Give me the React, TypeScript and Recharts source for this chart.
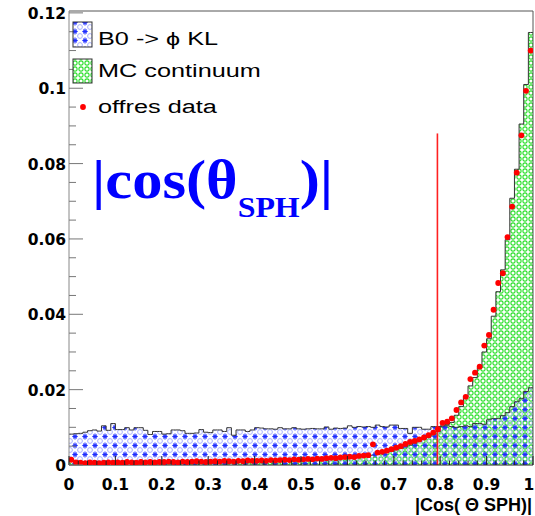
import React from 'react';
import { ComposedChart, Area, Line, XAxis, YAxis, ReferenceLine } from 'recharts';

// 100 bins over |cos(theta_SPH)| in [0, 1]
const signalB0 = [
  0.0082, 0.0083, 0.0084, 0.0087, 0.0091, 0.0093, 0.0090, 0.0104, 0.0092, 0.0110,
  0.0094, 0.0094, 0.0099, 0.0093, 0.0099, 0.0099, 0.0092, 0.0081, 0.0089, 0.0089,
  0.0082, 0.0083, 0.0093, 0.0093, 0.0091, 0.0084, 0.0084, 0.0085, 0.0094, 0.0087,
  0.0086, 0.0093, 0.0093, 0.0089, 0.0099, 0.0079, 0.0093, 0.0093, 0.0089, 0.0093,
  0.0099, 0.0098, 0.0096, 0.0096, 0.0095, 0.0099, 0.0096, 0.0096, 0.0099, 0.0096,
  0.0095, 0.0096, 0.0097, 0.0096, 0.0096, 0.0101, 0.0095, 0.0098, 0.0097, 0.0098,
  0.0104, 0.0100, 0.0102, 0.0101, 0.0102, 0.0100, 0.0106, 0.0102, 0.0101, 0.0106,
  0.0106, 0.0097, 0.0097, 0.0084, 0.0100, 0.0100, 0.0095, 0.0095, 0.0102, 0.0102,
  0.0104, 0.0104, 0.0102, 0.0100, 0.0102, 0.0104, 0.0102, 0.0110, 0.0110, 0.0108,
  0.0120, 0.0123, 0.0123, 0.0131, 0.0139, 0.0155, 0.0168, 0.0176, 0.0195, 0.0205,
];

const mcContinuum = [
  0.0010, 0.0005, 0.0004, 0.0004, 0.0005, 0.0004, 0.0005, 0.0005, 0.0004, 0.0005,
  0.0005, 0.0005, 0.0006, 0.0005, 0.0006, 0.0006, 0.0005, 0.0006, 0.0006, 0.0007,
  0.0006, 0.0007, 0.0007, 0.0006, 0.0007, 0.0007, 0.0008, 0.0007, 0.0008, 0.0008,
  0.0008, 0.0009, 0.0008, 0.0009, 0.0009, 0.0009, 0.0010, 0.0009, 0.0010, 0.0010,
  0.0010, 0.0011, 0.0011, 0.0011, 0.0012, 0.0012, 0.0012, 0.0013, 0.0013, 0.0013,
  0.0014, 0.0014, 0.0015, 0.0015, 0.0016, 0.0016, 0.0017, 0.0017, 0.0018, 0.0019,
  0.0019, 0.0020, 0.0021, 0.0023, 0.0024, 0.0026, 0.0028, 0.0031, 0.0033, 0.0036,
  0.0040, 0.0044, 0.0048, 0.0053, 0.0058, 0.0063, 0.0068, 0.0074, 0.0080, 0.0088,
  0.0102, 0.0108, 0.0113, 0.0132, 0.0155, 0.0180, 0.0210, 0.0232, 0.0258, 0.0300,
  0.0335, 0.0395, 0.0460, 0.0518, 0.0598, 0.0708, 0.0785, 0.0905, 0.1010, 0.1148,
];

const offresData = [
  0.0014, 0.0007, 0.0006, 0.0005, 0.0007, 0.0006, 0.0005, 0.0006, 0.0007, 0.0006,
  0.0007, 0.0006, 0.0008, 0.0007, 0.0006, 0.0008, 0.0007, 0.0008, 0.0007, 0.0008,
  0.0008, 0.0009, 0.0008, 0.0007, 0.0009, 0.0008, 0.0009, 0.0010, 0.0009, 0.0008,
  0.0009, 0.0010, 0.0009, 0.0011, 0.0010, 0.0009, 0.0011, 0.0010, 0.0012, 0.0011,
  0.0011, 0.0012, 0.0011, 0.0013, 0.0012, 0.0013, 0.0014, 0.0013, 0.0015, 0.0014,
  0.0015, 0.0016, 0.0015, 0.0017, 0.0016, 0.0018, 0.0019, 0.0018, 0.0020, 0.0021,
  0.0022, 0.0021, 0.0024, 0.0025, 0.0026, 0.0055, 0.0033, 0.0035, 0.0038, 0.0042,
  0.0046, 0.0050, 0.0056, 0.0061, 0.0064, 0.0068, 0.0073, 0.0079, 0.0086, 0.0095,
  0.0112, 0.0115, 0.0124, 0.0146, 0.0166, 0.0181, 0.0228, 0.0245, 0.0261, 0.0317,
  0.0345, 0.0412, 0.0483, 0.0509, 0.0605, 0.0686, 0.0776, 0.0875, 0.0993, 0.1100,
];

const xMajor = [0, 0.1, 0.2, 0.3, 0.4, 0.5, 0.6, 0.7, 0.8, 0.9, 1];
const xLabels = ['0', '0.1', '0.2', '0.3', '0.4', '0.5', '0.6', '0.7', '0.8', '0.9', '1'];
const xMinor = [
  0.02, 0.04, 0.06, 0.08, 0.12, 0.14, 0.16, 0.18, 0.22, 0.24, 0.26, 0.28,
  0.32, 0.34, 0.36, 0.38, 0.42, 0.44, 0.46, 0.48, 0.52, 0.54, 0.56, 0.58,
  0.62, 0.64, 0.66, 0.68, 0.72, 0.74, 0.76, 0.78, 0.82, 0.84, 0.86, 0.88,
  0.92, 0.94, 0.96, 0.98,
];
const yMajor = [0, 0.02, 0.04, 0.06, 0.08, 0.1, 0.12];
const yLabels = ['0', '0.02', '0.04', '0.06', '0.08', '0.1', '0.12'];
const yMinor = [
  0.005, 0.01, 0.015, 0.025, 0.03, 0.035, 0.045, 0.05, 0.055,
  0.065, 0.07, 0.075, 0.085, 0.09, 0.095, 0.105, 0.11, 0.115,
];

const yTop = 0.1205;
const cutValue = 0.794;
const cutHeight = 0.088;

// step rows: bin edges + bin centres (dots sit on the centres)
const nBins = signalB0.length;
const rows: any[] = [];
for (let i = 0; i < nBins; i++) {
  rows.push({ x: i / nBins, b0: signalB0[i], mc: mcContinuum[i] });
  rows.push({ x: (i + 0.5) / nBins, b0: signalB0[i], mc: mcContinuum[i], off: offresData[i] });
}
rows.push({ x: 1, b0: signalB0[nBins - 1], mc: mcContinuum[nBins - 1] });

const tickFont = '"DejaVu Sans", sans-serif';

const XTick = (p: any) => {
  const v = p.payload.value;
  const i = xMajor.indexOf(v);
  const major = i >= 0;
  // last label would run off the page edge
  const lx = i === xMajor.length - 1 ? p.x - 4 : p.x;
  return (
    <g>
      <line x1={p.x} x2={p.x} y1={p.y} y2={p.y - (major ? 9 : 4.5)} stroke="#222" />
      {major && (
        <text x={lx} y={p.y + 25} textAnchor="middle" fontFamily={tickFont} fontWeight="bold" fontSize={15.5} fill="#000">
          {xLabels[i]}
        </text>
      )}
    </g>
  );
};

const YTick = (p: any) => {
  const v = p.payload.value;
  const i = yMajor.indexOf(v);
  const major = i >= 0;
  return (
    <g>
      <line x1={p.x} x2={p.x + (major ? 14 : 7)} y1={p.y} y2={p.y} stroke="#777" />
      {major && (
        <text x={p.x - 3} y={p.y + 6} textAnchor="end" fontFamily={tickFont} fontWeight="bold" fontSize={15.5} fill="#000">
          {yLabels[i]}
        </text>
      )}
    </g>
  );
};

const RedDot = (p: any) => {
  if (p.payload == null || p.payload.off == null || p.cy == null) return <g key={'d' + p.index} />;
  return <circle key={'d' + p.index} cx={p.cx} cy={p.cy} r={2.9} fill="#ff0000" />;
};

// thin cut line drawn as a filled strip so it keeps a clean red colour
const CutLine = (p: any) => (
  <rect x={p.x1 - 0.8} y={Math.min(p.y1, p.y2)} width={1.6} height={Math.abs(p.y2 - p.y1)} fill="#ff2020" />
);

const legendFont = '"Liberation Sans", Arial, sans-serif';

export default function App() {
  return (
    <div style={{ position: 'absolute', left: 0, top: 0, width: 535, height: 516, background: '#fff' }}>
      <svg width={535} height={516} style={{ position: 'absolute', left: 0, top: 0, pointerEvents: 'none', zIndex: 2 }}>
        <defs>
          <pattern id="bluePat" width="10" height="9" patternUnits="userSpaceOnUse">
            <circle cx="0" cy="0" r="2.4" fill="none" stroke="#a8b0ff" strokeWidth="1" />
            <circle cx="10" cy="0" r="2.4" fill="none" stroke="#a8b0ff" strokeWidth="1" />
            <circle cx="0" cy="9" r="2.4" fill="none" stroke="#a8b0ff" strokeWidth="1" />
            <circle cx="10" cy="9" r="2.4" fill="none" stroke="#a8b0ff" strokeWidth="1" />
            <g stroke="#1f2dff" strokeWidth="1.1">
              <line x1="5" y1="1.6" x2="5" y2="7.4" />
              <line x1="2.3" y1="4.5" x2="7.7" y2="4.5" />
              <line x1="3.2" y1="2.7" x2="6.8" y2="6.3" />
              <line x1="6.8" y1="2.7" x2="3.2" y2="6.3" />
            </g>
          </pattern>
          <pattern id="greenPat" width="6" height="6" patternUnits="userSpaceOnUse">
            <rect width="6" height="6" fill="#ffffff" />
            <circle cx="3" cy="3" r="2.1" fill="none" stroke="#2fe02f" strokeWidth="1.1" />
          </pattern>
        </defs>

        {/* legend */}
        <rect x={73} y={22} width={19} height={25} fill="url(#bluePat)" stroke="#333" />
        <rect x={73} y={59} width={19} height={24} fill="url(#greenPat)" stroke="#333" />
        <circle cx={83} cy={107} r={2.9} fill="#ff0000" />
        <g transform="translate(98,45) scale(1.33,1)">
          <text x={0} y={0} fontFamily={legendFont} fontSize={19} fill="#000">B0 -&gt; ϕ KL</text>
        </g>
        <g transform="translate(98,77) scale(1.33,1)">
          <text x={0} y={0} fontFamily={legendFont} fontSize={19} fill="#000">MC continuum</text>
        </g>
        <g transform="translate(98,113) scale(1.33,1)">
          <text x={0} y={0} fontFamily={legendFont} fontSize={19} fill="#000">offres data</text>
        </g>

        {/* big label */}
        <g transform="translate(92,198) scale(1.1,1)">
          <text x={0} y={0} fontFamily='"Liberation Serif", "Times New Roman", serif' fontWeight="bold" fontSize={55} fill="#0000ff">
            |cos(θ
            <tspan dy={19} fontSize={29}>SPH</tspan>
            <tspan dy={-19}>)|</tspan>
          </text>
        </g>

        {/* x title */}
        <text x={532} y={511} textAnchor="end" fontFamily={legendFont} fontWeight="bold" fontSize={18} fill="#000">
          |Cos( Θ SPH)|
        </text>
      </svg>

      <div style={{ position: 'absolute', left: 0, top: 0, zIndex: 1 }}>
        <ComposedChart width={535} height={516} data={rows} margin={{ top: 11, right: 2, bottom: 0, left: 0 }}>
          <XAxis
            dataKey="x"
            type="number"
            domain={[0, 1]}
            ticks={[...xMajor, ...xMinor]}
            interval={0}
            height={51}
            tickSize={0}
            tickMargin={0}
            tick={<XTick />}
            axisLine={{ stroke: '#222' }}
            allowDataOverflow
          />
          <YAxis
            type="number"
            domain={[0, yTop]}
            ticks={[...yMajor, ...yMinor]}
            interval={0}
            width={69}
            tickSize={0}
            tickMargin={0}
            tick={<YTick />}
            axisLine={{ stroke: '#888' }}
            allowDataOverflow
          />
          <Area
            dataKey="mc"
            type="stepAfter"
            stroke="#333"
            strokeWidth={1}
            fill="url(#greenPat)"
            fillOpacity={1}
            isAnimationActive={false}
            dot={false}
            activeDot={false}
          />
          <Area
            dataKey="b0"
            type="stepAfter"
            stroke="#333"
            strokeWidth={1}
            fill="url(#bluePat)"
            fillOpacity={1}
            isAnimationActive={false}
            dot={false}
            activeDot={false}
          />
          <Line
            dataKey="off"
            stroke="none"
            dot={RedDot}
            activeDot={false}
            isAnimationActive={false}
          />
          <ReferenceLine y={yTop} stroke="#555" />
          <ReferenceLine x={1} stroke="#555" />
          <ReferenceLine
            segment={[{ x: cutValue, y: 0 }, { x: cutValue, y: cutHeight }]}
            shape={CutLine}
          />
        </ComposedChart>
      </div>
    </div>
  );
}
